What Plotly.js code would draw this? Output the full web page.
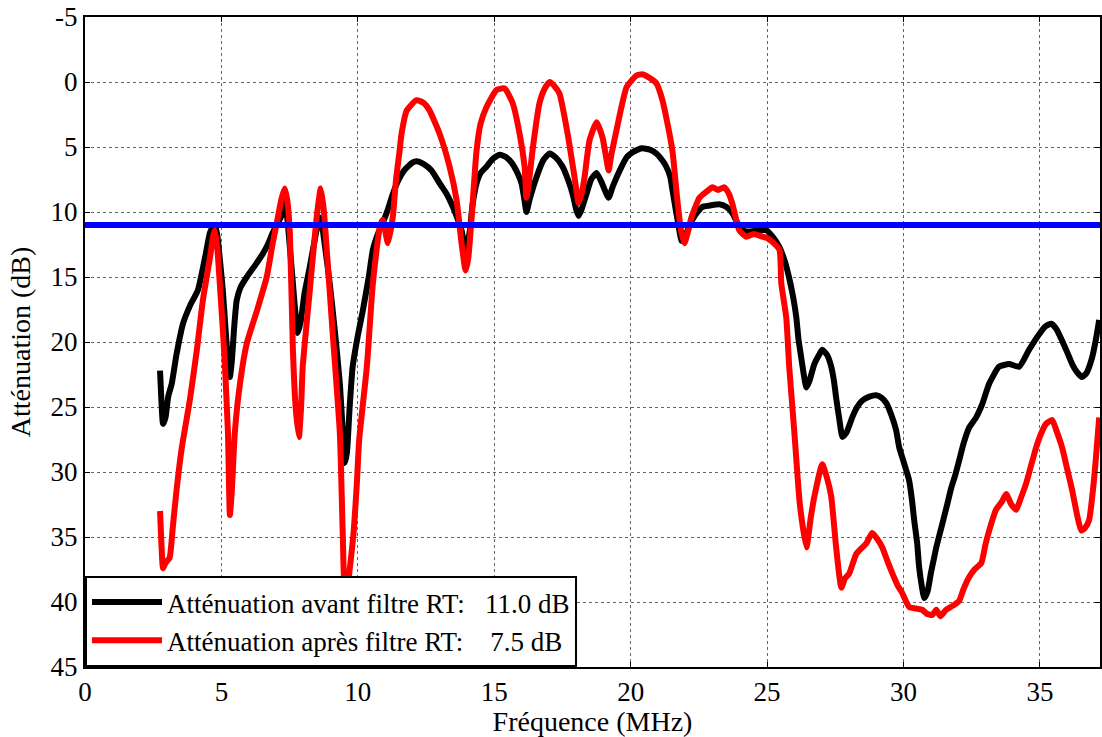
<!DOCTYPE html>
<html>
<head>
<meta charset="utf-8">
<script src="https://cdn.plot.ly/plotly-3.0.1.min.js"></script>
<style>html,body{margin:0;padding:0;background:#fff;}#chart{width:1102px;height:737px;}</style>
</head>
<body>
<div id="chart"></div>
<script>
const freqAvant = [2.75,2.8,2.86,2.95,3.05,3.18,3.35,3.59,3.85,4.14,4.4,4.58,4.7,4.76,4.85,4.95,5.05,5.15,5.25,5.31,5.38,5.47,5.56,5.7,5.93,6.2,6.52,6.7,6.88,7.05,7.25,7.32,7.4,7.5,7.62,7.72,7.8,7.9,8.05,8.24,8.45,8.6,8.7,8.85,8.97,9.15,9.34,9.45,9.52,9.6,9.7,9.81,10.0,10.18,10.4,10.55,10.75,10.9,11.1,11.25,11.43,11.7,12.0,12.15,12.4,12.7,13.0,13.25,13.48,13.65,13.8,13.95,14.1,14.2,14.35,14.5,14.72,14.95,15.2,15.45,15.67,15.85,16.0,16.1,16.18,16.3,16.55,16.8,17.03,17.25,17.5,17.7,17.87,18.0,18.09,18.2,18.38,18.55,18.75,18.95,19.19,19.35,19.6,19.85,20.07,20.4,20.7,20.94,21.15,21.3,21.45,21.53,21.65,21.75,21.86,21.95,22.1,22.26,22.45,22.63,22.9,23.25,23.5,23.73,23.9,24.1,24.4,24.7,24.97,25.2,25.45,25.65,25.8,25.95,26.07,26.15,26.25,26.35,26.44,26.55,26.73,26.9,27.02,27.2,27.35,27.45,27.53,27.65,27.76,27.9,28.12,28.3,28.49,28.75,29.0,29.2,29.37,29.55,29.73,29.84,30.0,30.2,30.3,30.39,30.5,30.57,30.67,30.76,30.88,31.0,31.1,31.2,31.42,31.6,31.75,31.9,32.04,32.2,32.4,32.66,32.88,33.14,33.5,33.87,34.24,34.6,34.97,35.2,35.41,35.6,35.81,36.0,36.18,36.35,36.54,36.7,36.91,37.05,37.17];
const attAvant = [22.2,24.5,26.3,25.8,24.2,23.2,21.0,18.6,17.2,16.0,13.5,11.6,11.1,11.0,11.8,13.8,16.0,19.0,21.8,22.7,21.5,18.8,16.8,15.8,15.0,14.2,13.2,12.5,11.6,10.9,10.1,9.3,10.2,12.5,15.5,18.0,19.3,18.5,16.2,14.2,11.8,10.4,11.2,13.5,15.5,19.0,23.2,27.0,29.3,28.5,25.0,21.9,19.5,17.6,15.0,12.9,11.6,10.9,9.8,8.8,7.8,6.8,6.2,6.1,6.3,6.8,7.8,8.6,9.6,10.5,11.4,13.0,11.5,9.5,7.8,7.0,6.5,5.9,5.6,5.8,6.3,7.0,7.8,9.0,10.0,9.0,7.3,6.0,5.5,5.8,6.5,7.5,8.6,9.8,10.3,9.8,8.6,7.5,7.0,7.8,8.9,8.0,6.8,5.8,5.4,5.1,5.2,5.5,6.0,6.5,7.3,8.3,9.8,11.0,12.2,12.2,11.3,10.6,10.0,9.6,9.5,9.4,9.6,10.1,10.8,11.4,11.5,11.4,11.4,11.9,12.7,13.8,15.0,16.5,18.1,19.8,21.2,22.6,23.5,23.0,21.7,21.0,20.6,21.0,21.9,23.0,24.3,26.0,27.3,27.0,25.8,25.0,24.5,24.2,24.1,24.3,24.7,25.6,26.8,28.1,29.2,30.6,32.0,33.7,35.5,37.3,38.8,39.7,39.2,37.8,36.8,35.8,34.0,32.5,31.2,30.2,29.1,27.8,26.6,25.8,24.8,23.2,21.9,21.7,21.9,20.6,19.4,18.8,18.6,19.0,19.9,20.8,21.7,22.3,22.7,22.4,21.2,19.8,18.3];

const freqApres = [2.75,2.8,2.86,2.95,3.1,3.22,3.35,3.55,3.84,4.1,4.32,4.58,4.7,4.76,4.85,4.94,5.05,5.13,5.24,5.31,5.38,5.49,5.68,5.93,6.3,6.66,6.88,7.07,7.2,7.32,7.42,7.51,7.62,7.72,7.84,7.92,7.98,8.24,8.49,8.64,8.75,8.86,9.08,9.34,9.45,9.52,9.6,9.7,9.85,9.96,10.05,10.33,10.55,10.8,10.91,11.0,11.1,11.28,11.4,11.53,11.6,11.79,12.15,12.4,12.63,13.0,13.36,13.62,13.8,13.95,14.05,14.17,14.35,14.5,14.72,15.09,15.38,15.67,15.93,16.11,16.18,16.28,16.4,16.66,16.85,17.03,17.2,17.39,17.69,17.94,18.09,18.2,18.31,18.49,18.75,18.97,19.1,19.19,19.3,19.48,19.85,20.21,20.43,20.7,20.94,21.15,21.3,21.53,21.71,21.85,21.97,22.1,22.23,22.52,22.8,23.0,23.2,23.43,23.6,23.73,23.98,24.24,24.5,24.83,25.0,25.19,25.45,25.52,25.7,25.81,26.0,26.2,26.44,26.6,26.73,27.02,27.2,27.35,27.53,27.72,27.85,28.01,28.27,28.63,28.85,29.05,29.22,29.4,29.59,29.8,29.95,30.21,30.45,30.68,30.85,31.05,31.2,31.35,31.56,31.8,32.04,32.2,32.4,32.6,32.85,33.0,33.14,33.39,33.6,33.76,33.95,34.13,34.3,34.49,34.7,34.86,35.05,35.22,35.45,35.6,35.81,36.0,36.18,36.35,36.51,36.65,36.8,36.98,37.17];
const attApres = [33.0,35.5,37.4,37.0,36.6,34.2,31.5,28.1,24.5,20.6,16.8,13.5,11.8,11.4,12.8,15.5,19.0,21.9,27.0,33.3,31.5,27.0,23.2,20.1,17.6,15.0,12.4,10.4,9.0,8.2,9.2,11.7,20.6,25.0,27.3,25.0,21.9,16.0,10.4,8.2,9.8,12.9,19.4,27.0,35.0,38.9,39.1,37.5,34.5,31.0,27.5,21.9,15.5,11.2,10.6,11.4,12.4,10.4,7.5,5.3,4.0,2.2,1.4,1.6,2.2,4.0,6.5,9.1,12.4,14.5,13.5,10.4,5.3,3.2,1.9,0.6,0.5,1.6,4.0,6.5,8.9,7.5,5.3,1.6,0.5,0.0,0.3,0.9,4.0,7.3,9.3,8.6,7.3,4.5,3.1,4.3,5.8,6.8,5.5,3.7,0.4,-0.5,-0.6,-0.3,0.1,1.3,2.7,5.3,9.1,11.5,12.4,11.5,10.4,8.9,8.4,8.1,8.3,8.1,8.6,9.4,11.4,11.9,11.7,11.9,12.0,12.3,12.9,15.5,18.1,21.9,27.0,32.5,35.8,33.5,31.9,29.4,30.5,31.9,35.8,38.9,38.2,37.8,36.3,35.5,34.7,35.2,35.8,36.8,37.8,38.8,39.3,40.4,40.5,40.6,40.9,41.0,40.6,41.1,40.6,40.3,39.9,39.0,38.1,37.5,37.0,35.6,34.5,32.9,32.3,31.7,32.5,32.9,32.0,30.9,29.3,28.1,27.0,26.3,26.0,26.8,28.1,29.8,31.4,33.2,34.5,34.3,33.7,30.6,25.8];

const seuilFreq = [0, 37.2];
const seuilAtt = [11.0, 11.0];

const nameAvant = "Atténuation avant filtre RT:\u00a0\u00a0\u00a011.0 dB";
const nameApres = "Atténuation après filtre RT:\u00a0\u00a0\u00a0\u00a07.5 dB";
const xTicks = [0,5,10,15,20,25,30,35];
const yTicks = [-5,0,5,10,15,20,25,30,35,40,45];

const font = '"Liberation Serif", "Times New Roman", serif';

const traces = [
  {x: freqAvant, y: attAvant, mode: 'lines', name: nameAvant, legendgroup: 'a',
   line: {color: '#000000', width: 6, shape: 'spline', smoothing: 0.5}},
  {x: freqApres, y: attApres, mode: 'lines', name: nameApres, legendgroup: 'b',
   line: {color: '#ff0000', width: 6, shape: 'spline', smoothing: 0.5}},
  {x: seuilFreq, y: seuilAtt, mode: 'lines', showlegend: false,
   line: {color: '#0000ff', width: 6}}
];

const layout = {
  width: 1102, height: 737,
  margin: {l: 85, r: 2, t: 17, b: 70},
  paper_bgcolor: '#ffffff', plot_bgcolor: '#ffffff',
  font: {family: font, size: 27, color: '#000'},
  showlegend: true,
  legend: {x: 0, y: 0, xanchor: 'left', yanchor: 'bottom', bgcolor: '#ffffff',
           bordercolor: '#000', borderwidth: 2, font: {family: font, size: 27, color: '#000'},
           itemwidth: 70, tracegroupgap: 0},
  xaxis: {range: [0, 37.2], tickvals: xTicks, ticktext: xTicks.map(String),
          showgrid: true, gridcolor: '#666', griddash: 'dot', gridwidth: 1,
          zeroline: false, showline: true, linecolor: '#000', linewidth: 2, mirror: 'ticks',
          ticks: 'inside', ticklen: 5, tickcolor: '#000', tickfont: {family: font, size: 27},
          title: {text: 'Fréquence (MHz)', font: {family: font, size: 28}, standoff: 0}},
  yaxis: {range: [45, -5], tickvals: yTicks, ticktext: yTicks.map(String),
          showgrid: true, gridcolor: '#666', griddash: 'dot', gridwidth: 1,
          zeroline: false, showline: true, linecolor: '#000', linewidth: 2, mirror: 'ticks',
          ticks: 'inside', ticklen: 5, tickcolor: '#000', tickfont: {family: font, size: 27},
          title: {text: 'Atténuation (dB)', font: {family: font, size: 28}, standoff: 12}}
};

Plotly.newPlot('chart', traces, layout, {displayModeBar: false, staticPlot: true});
</script>
</body>
</html>
